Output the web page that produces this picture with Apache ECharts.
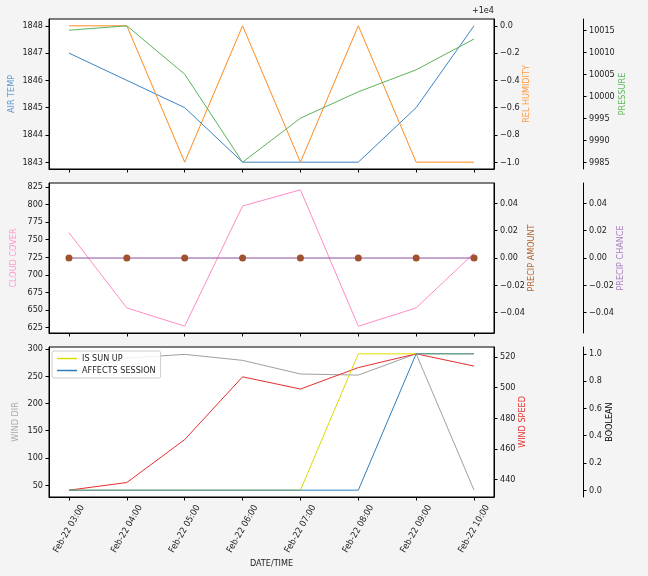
<!DOCTYPE html>
<html>
<head>
<meta charset="utf-8">
<script src="https://cdn.jsdelivr.net/npm/echarts@6/dist/echarts.min.js"></script>
<style>
html,body{margin:0;padding:0;background:#f4f4f4;}
#chart{width:648px;height:576px;}
</style>
</head>
<body>
<div id="chart"></div>
<script>
// ---- data ----
const categories = ['Feb-22 03:00','Feb-22 04:00','Feb-22 05:00','Feb-22 06:00','Feb-22 07:00','Feb-22 08:00','Feb-22 09:00','Feb-22 10:00'];
const airTemp = [1847,1846,1845,1843,1843,1843,1845,1848];
const relHumidity = [10000,10000,9999,10000,9999,10000,9999,9999];
const pressure = [10015,10016,10005,9985,9995,10001,10006,10013];
const cloudCover = [760,653,627,798,821,627,653,731];
const precipAmount = [0,0,0,0,0,0,0,0];
const precipChance = [0,0,0,0,0,0,0,0];
const windDir = [256,283,290,279,254,252,291,41];
const windSpeed = [433,438,466,507,499,513,522,514];
const isSunUp = [0,0,0,0,0,1,1,1];
const affectsSession = [0,0,0,0,0,0,1,1];

// tick labels
const airTempTicks = [1843,1844,1845,1846,1847,1848];
const relHumTicks = [9999,9999.2,9999.4,9999.6,9999.8,10000];
const pressureTicks = [9985,9990,9995,10000,10005,10010,10015];
const cloudTicks = [625,650,675,700,725,750,775,800,825];
const precipTicks = [-0.04,-0.02,0,0.02,0.04];
const windDirTicks = [50,100,150,200,250,300];
const windSpeedTicks = [440,460,480,500,520];
const boolTicks = [0,0.2,0.4,0.6,0.8,1.0];

const FONT = "'Liberation Sans Narrow','DejaVu Sans Condensed','Liberation Sans',sans-serif";
const FS = 9;
const minus = s => String(s).replace('-', '\u2212');

function range(arr){
  let mn = Math.min(...arr), mx = Math.max(...arr);
  if (mx === mn) { mn -= 0.05; mx += 0.05; }
  const r = mx - mn;
  return [mn - 0.05*r, mx + 0.05*r];
}

const idx = categories.map((c,i)=>i);
const pairs = arr => arr.map((v,i)=>[i,v]);

const grids = [
  {left:49, right:154, top:19, height:150},
  {left:49, right:154, top:183, height:150},
  {left:49, right:154, top:347, height:150}
].map(g => Object.assign(g, {show:true, backgroundColor:'#fff', borderColor:'#000', borderWidth:1,
  containLabel:false, outerBoundsMode:'none'}));

function xAx(gi, showLabels){
  return {
    type:'value', gridIndex:gi, min:-0.345, max:7.345,
    axisLine:{show:true, onZero:false, lineStyle:{color:'#000'}},
    axisTick:{show:true, length:3.5, customValues:idx, lineStyle:{color:'#000'}},
    axisLabel:{show:showLabels, customValues:idx, rotate:60, align:'center', verticalAlign:'middle',
      margin:32, fontSize:FS, fontFamily:FONT, color:'#222',
      formatter: v => categories[Math.round(v)]},
    splitLine:{show:false},
    name: showLabels ? 'DATE/TIME' : '',
    nameLocation:'middle', nameGap:62, nameMoveOverlap:false,
    nameTextStyle:{fontSize:FS, fontFamily:FONT, color:'#222'}
  };
}

function yAx(gi, pos, offset, data, ticks, fmt, name, nameColor, nameGap){
  const r = range(data);
  return {
    type:'value', gridIndex:gi, position:pos, offset:offset, min:r[0], max:r[1],
    axisLine:{show:true, onZero:false, lineStyle:{color:'#000'}},
    axisTick:{show:true, length:3.5, customValues:ticks, lineStyle:{color:'#000'}},
    axisLabel:{customValues:ticks, margin:6, fontSize:FS, fontFamily:FONT, color:'#222', formatter:fmt},
    splitLine:{show:false},
    name:name, nameLocation:'middle', nameRotate:90, nameGap:nameGap, nameMoveOverlap:false,
    nameTextStyle:{fontSize:FS, fontFamily:FONT, color:nameColor}
  };
}

const yAxes = [
  yAx(0,'left',0,airTemp,airTempTicks,v=>String(Math.round(v)),'AIR TEMP','#5b9bd5',33),
  yAx(0,'right',0,relHumidity,relHumTicks,v=>minus((v-10000).toFixed(1)),'REL HUMIDITY','#ff9a40',28),
  yAx(0,'right',89,pressure,pressureTicks,v=>String(Math.round(v)),'PRESSURE','#5cb85c',35),
  yAx(1,'left',0,cloudCover,cloudTicks,v=>String(Math.round(v)),'CLOUD COVER','#ff99cc',31),
  yAx(1,'right',0,precipAmount,precipTicks,v=>minus(v.toFixed(2)),'PRECIP AMOUNT','#b0622e',33),
  yAx(1,'right',89,precipChance,precipTicks,v=>minus(v.toFixed(2)),'PRECIP CHANCE','#a97cc0',33),
  yAx(2,'left',0,windDir,windDirTicks,v=>String(Math.round(v)),'WIND DIR','#aaaaaa',29),
  yAx(2,'right',0,windSpeed,windSpeedTicks,v=>String(Math.round(v)),'WIND SPEED','#e83030',24),
  yAx(2,'right',89,[0,1],boolTicks,v=>v.toFixed(1),'BOOLEAN','#000',22)
];

function line(name, data, xi, yi, color, z){
  return {type:'line', name:name, data:pairs(data), xAxisIndex:xi, yAxisIndex:yi,
    showSymbol:false, symbol:'none', lineStyle:{color:color, width:1}, itemStyle:{color:color},
    z:z||2, animation:false};
}

const series = [
  line('AIR TEMP', airTemp, 0, 0, '#3a83c4', 2),
  line('REL HUMIDITY', relHumidity, 0, 1, '#ff8a1f', 3),
  line('PRESSURE', pressure, 0, 2, '#5ab45a', 4),
  line('CLOUD COVER', cloudCover, 1, 3, '#ff8cc8', 2),
  line('PRECIP CHANCE', precipChance, 1, 5, '#8e4fa0', 3),
  {type:'scatter', name:'PRECIP AMOUNT', data:pairs(precipAmount), xAxisIndex:1, yAxisIndex:4,
    symbol:'circle', symbolSize:7, itemStyle:{color:'#a0522d', opacity:1}, z:5, animation:false},
  line('WIND DIR', windDir, 2, 6, '#a0a0a0', 2),
  line('WIND SPEED', windSpeed, 2, 7, '#e62e2e', 3),
  line('IS SUN UP', isSunUp, 2, 8, '#dcdc00', 4),
  line('AFFECTS SESSION', affectsSession, 2, 8, '#2f7fbf', 5)
];

const chart = echarts.init(document.getElementById('chart'), null, {renderer:'canvas'});
chart.setOption({
  backgroundColor:'#f4f4f4',
  animation:false,
  grid:grids,
  xAxis:[xAx(0,false), xAx(1,false), xAx(2,true)],
  yAxis:yAxes,
  series:series,
  legend:{
    data:[{name:'IS SUN UP', icon:'rect'},{name:'AFFECTS SESSION', icon:'rect'}],
    left:52, top:351, orient:'vertical', itemGap:3, itemWidth:20, itemHeight:1.5,
    padding:[3,5,3,5], borderColor:'#cccccc', borderWidth:1, borderRadius:2, backgroundColor:'rgba(255,255,255,0.85)',
    textStyle:{fontSize:FS, fontFamily:FONT, color:'#222'}, selectedMode:false
  },
  graphic:[{type:'text', x:494, y:11, style:{text:'+1e4', fontSize:FS, fontFamily:FONT, fill:'#222', align:'right', verticalAlign:'middle'}}]
});
</script>
</body>
</html>
